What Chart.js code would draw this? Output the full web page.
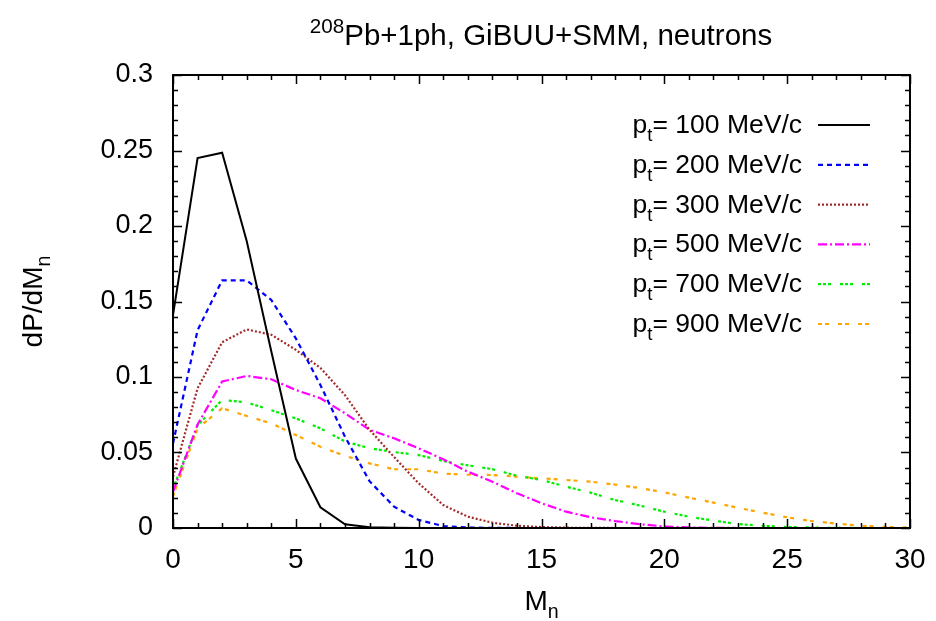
<!DOCTYPE html>
<html>
<head>
<meta charset="utf-8">
<title>208Pb+1ph, GiBUU+SMM, neutrons</title>
<script src="https://cdn.jsdelivr.net/npm/chart.js@4/dist/chart.umd.min.js"></script>
<style>
  html, body { margin: 0; padding: 0; background: #fff; }
  #wrap { width: 936px; height: 621px; }
</style>
</head>
<body>
<div id="wrap"><canvas id="chart" width="936" height="621"></canvas></div>
<script>
// ============================================
// Data
// ============================================

const mn = [0, 1, 2, 3, 4, 5, 6, 7, 8, 9, 10, 11, 12, 13, 14, 15,
            16, 17, 18, 19, 20, 21, 22, 23, 24, 25, 26, 27, 28, 29, 30];

const pt100 = [0.141, 0.245, 0.2485, 0.190, 0.117, 0.046, 0.0137, 0.0025, 0.0005, 0.0001, 0,
               0, 0, 0, 0, 0, 0, 0, 0, 0, 0, 0, 0, 0, 0, 0, 0, 0, 0, 0, 0];
const pt200 = [0.056, 0.131, 0.164, 0.164, 0.151, 0.1256, 0.0947, 0.0605, 0.031, 0.0141, 0.0053,
               0.0013, 0.0003, 0.0001, 0, 0, 0, 0, 0, 0, 0, 0, 0, 0, 0, 0, 0, 0, 0, 0, 0];
const pt300 = [0.034, 0.0925, 0.123, 0.1315, 0.128, 0.118, 0.106, 0.088, 0.065, 0.047, 0.0296,
               0.0152, 0.0075, 0.0035, 0.0015, 0.0006, 0.0002, 0.0001, 0, 0, 0, 0, 0, 0, 0, 0, 0, 0, 0, 0, 0];
const pt500 = [0.024, 0.0685, 0.097, 0.1007, 0.0985, 0.0914, 0.0859, 0.076, 0.065, 0.0594, 0.0528,
               0.0455, 0.0373, 0.0307, 0.023, 0.0164, 0.0108, 0.0071, 0.0046, 0.0025, 0.001,
               0.0004, 0.0001, 0, 0, 0, 0, 0, 0, 0, 0];
const pt700 = [0.026, 0.068, 0.0848, 0.0832, 0.078, 0.0726, 0.066, 0.0573, 0.0528, 0.0503, 0.0483,
               0.0444, 0.0415, 0.039, 0.0346, 0.0318, 0.0274, 0.0234, 0.0185, 0.0149, 0.0108,
               0.0075, 0.0049, 0.0026, 0.0015, 0.0007, 0.0003, 0.0001, 0, 0, 0];
const pt900 = [0.021, 0.066, 0.0793, 0.0742, 0.0693, 0.0616, 0.0538, 0.0478, 0.0428, 0.0389, 0.0389,
               0.036, 0.0353, 0.0351, 0.034, 0.0329, 0.0318, 0.0307, 0.0287, 0.0265, 0.0236,
               0.0201, 0.0168, 0.0134, 0.0101, 0.0071, 0.0046, 0.0029, 0.0015, 0.0007, 0.0003];

const seriesLabels = ['100', '200', '300', '500', '700', '900'];
const seriesValues = [pt100, pt200, pt300, pt500, pt700, pt900];
const seriesColors = ['#000000', '#0000ff', '#a52a2a', '#ff00ff', '#00ee00', '#ffa500'];
const seriesDashes = [[], [5, 4], [2, 2], [9, 3, 2, 3], [3, 2, 3, 2, 3, 9], [4, 3, 4, 9]];

const xTicks = [0, 5, 10, 15, 20, 25, 30];
const yTicks = [0, 0.05, 0.1, 0.15, 0.2, 0.25, 0.3];

const FONT = '"Liberation Sans", Arial, Helvetica, sans-serif';

// ============================================
// Helpers
// ============================================

// draw text made of parts with sub/superscripts
function richWidth(ctx, parts, size) {
    let w = 0;
    parts.forEach(p => {
        const s = p.m ? size * 0.7 : size;
        ctx.font = s + 'px ' + FONT;
        w += ctx.measureText(p.t).width;
    });
    return w;
}

function drawRich(ctx, parts, x, y, size, align) {
    const w = richWidth(ctx, parts, size);
    let cx = x;
    if (align === 'center') cx = x - w / 2;
    if (align === 'right') cx = x - w;
    ctx.textBaseline = 'alphabetic';
    ctx.textAlign = 'left';
    parts.forEach(p => {
        const s = p.m ? size * 0.7 : size;
        let dy = 0;
        if (p.m === 'sub') dy = size * 0.3;
        if (p.m === 'sup') dy = -size * 0.42;
        ctx.font = s + 'px ' + FONT;
        ctx.fillText(p.t, cx, y + dy);
        cx += ctx.measureText(p.t).width;
    });
}

// keep the plot box where the reference has it
function fixBox(s, size) {
    if (s.isHorizontal()) s.height = size; else s.width = size;
    s.paddingLeft = 0;
    s.paddingRight = 0;
    s.paddingTop = 0;
    s.paddingBottom = 0;
}

// ============================================
// Plugins: frame with inward ticks, texts, legend
// ============================================

const framePlugin = {
    id: 'frame',
    afterDatasetsDraw(chart) {
        const ctx = chart.ctx;
        const area = chart.chartArea;
        const xs = chart.scales.x;
        const ys = chart.scales.y;

        ctx.save();
        ctx.strokeStyle = '#000';
        ctx.lineWidth = 1.5;

        // minor/major ticks on all four sides
        for (let v = xs.min; v <= xs.max + 1e-9; v += 1) {
            const px = Math.round(xs.getPixelForValue(v)) + 0.5;
            const len = (v % 5 === 0) ? 9 : 5;
            ctx.beginPath();
            ctx.moveTo(px, area.bottom);
            ctx.lineTo(px, area.bottom - len);
            ctx.moveTo(px, area.top);
            ctx.lineTo(px, area.top + len);
            ctx.stroke();
        }
        for (let i = 0; i <= 30; i++) {
            const v = i * 0.01;
            const py = Math.round(ys.getPixelForValue(v)) + 0.5;
            const len = (i % 5 === 0) ? 9 : 5;
            ctx.beginPath();
            ctx.moveTo(area.left, py);
            ctx.lineTo(area.left + len, py);
            ctx.moveTo(area.right, py);
            ctx.lineTo(area.right - len, py);
            ctx.stroke();
        }

        ctx.lineWidth = 2;
        ctx.strokeRect(area.left, area.top, area.right - area.left, area.bottom - area.top);
        ctx.restore();
    },
    afterDraw(chart) {
        const ctx = chart.ctx;
        const area = chart.chartArea;
        ctx.save();
        ctx.fillStyle = '#000';

        // title
        drawRich(ctx, [
            { t: '208', m: 'sup' },
            { t: 'Pb+1ph, GiBUU+SMM, neutrons' }
        ], 541, 45, 29.5, 'center');

        // x axis title
        drawRich(ctx, [{ t: 'M' }, { t: 'n', m: 'sub' }],
            (area.left + area.right) / 2, 610, 28, 'center');

        // y axis title (rotated)
        ctx.save();
        ctx.translate(42, (area.top + area.bottom) / 2);
        ctx.rotate(-Math.PI / 2);
        drawRich(ctx, [{ t: 'dP/dM' }, { t: 'n', m: 'sub' }], 0, 0, 28, 'center');
        ctx.restore();

        // legend: label right-aligned, line sample on the right
        chart.data.datasets.forEach((ds, i) => {
            const y = 125 + i * 39.8;
            drawRich(ctx, [
                { t: 'p' }, { t: 't', m: 'sub' },
                { t: '= ' + seriesLabels[i] + ' MeV/c' }
            ], 802, y + 8, 26.5, 'right');
            ctx.beginPath();
            ctx.strokeStyle = ds.borderColor;
            ctx.lineWidth = ds.borderWidth;
            ctx.setLineDash(ds.borderDash);
            ctx.moveTo(818, y);
            ctx.lineTo(870, y);
            ctx.stroke();
            ctx.setLineDash([]);
        });

        ctx.restore();
    }
};

// ============================================
// Chart
// ============================================

const datasets = seriesValues.map((vals, i) => ({
    label: 'pt= ' + seriesLabels[i] + ' MeV/c',
    data: mn.map((m, k) => ({ x: m, y: vals[k] })),
    borderColor: seriesColors[i],
    borderWidth: i === 0 ? 2 : 2.2,
    borderDash: seriesDashes[i],
    pointRadius: 0,
    tension: 0,
    fill: false
}));

const ctx = document.getElementById('chart').getContext('2d');

const chart = new Chart(ctx, {
    type: 'line',
    data: { datasets: datasets },
    options: {
        responsive: false,
        animation: false,
        devicePixelRatio: 1,
        layout: { padding: { left: 0, top: 75, right: 26, bottom: 0 } },
        plugins: {
            legend: { display: false },
            title: { display: false },
            tooltip: { enabled: false }
        },
        scales: {
            x: {
                type: 'linear',
                min: 0,
                max: 30,
                afterFit: s => fixBox(s, 93),
                afterBuildTicks: s => { s.ticks = xTicks.map(v => ({ value: v })); },
                grid: { display: false, drawTicks: false },
                border: { display: false },
                ticks: {
                    color: '#000',
                    padding: 15,
                    maxRotation: 0,
                    font: { family: FONT, size: 28 },
                    callback: v => String(v)
                }
            },
            y: {
                type: 'linear',
                min: 0,
                max: 0.3,
                afterFit: s => fixBox(s, 173),
                afterBuildTicks: s => { s.ticks = yTicks.map(v => ({ value: v })); },
                grid: { display: false, drawTicks: false },
                border: { display: false },
                ticks: {
                    color: '#000',
                    padding: 20,
                    font: { family: FONT, size: 27 },
                    callback: v => String(parseFloat(Number(v).toFixed(2)))
                }
            }
        }
    },
    plugins: [framePlugin]
});
</script>
</body>
</html>
